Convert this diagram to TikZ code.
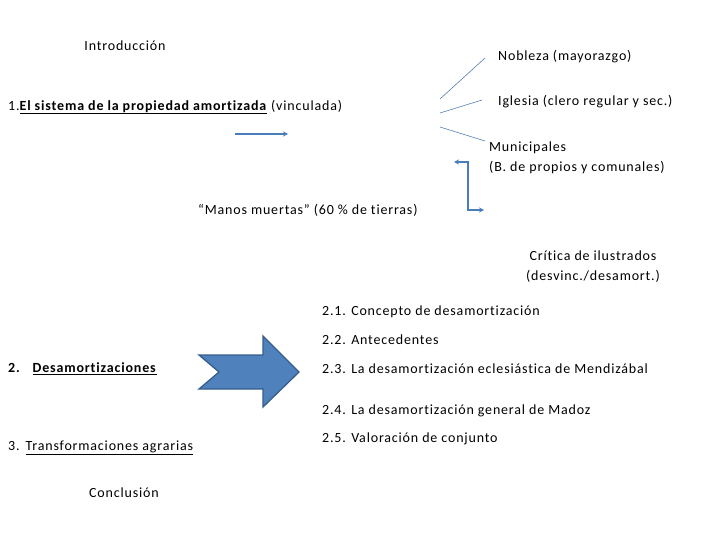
\documentclass[tikz,border=0pt]{standalone}
\usepackage{fontspec}
\setmainfont{Carlito}[LetterSpace=5.9,Ligatures={NoCommon}]
\usetikzlibrary{arrows.meta}
\definecolor{lineblue}{HTML}{4A7EBB}
\definecolor{fillblue}{HTML}{4F81BD}
\definecolor{edgeblue}{HTML}{385D8A}
\begin{document}
\begin{tikzpicture}[x=1pt,y=-1pt,
  txt/.style={anchor=west,inner sep=0pt,font=\fontsize{14}{20}\selectfont},
  ctxt/.style={inner sep=0pt,font=\fontsize{14}{20}\selectfont,align=center},
  fan/.style={draw=lineblue!80!gray,line width=0.6pt},
  conn/.style={draw=lineblue,line width=1.5pt,-{Stealth[length=5pt,width=5pt]}}]
\useasboundingbox (0,0) rectangle (720,540);
\node[ctxt] (intro) at (125,46) {Introducción};
\node[txt] (nob) at (498,57) {Nobleza (mayorazgo)};
\node[txt] (sist) at (8,107) {1.\underline{\textbf{El sistema de la propiedad amortizada}} (vinculada)};
\node[txt] (igl) at (498,102) {Iglesia (clero regular y sec.)};
\node[txt,align=left] (mun) at (489,157.5) {Municipales\\(B. de propios y comunales)};
\node[txt] (manos) at (198,210) {“Manos muertas” (60 \% de tierras)};
\node[ctxt] (crit) at (593,267) {Crítica de ilustrados\\(desvinc./desamort.)};
\node[txt] (s21) at (322,312) {2.1. Concepto de desamortización};
\node[txt] (s22) at (322,340) {2.2. Antecedentes};
\node[txt] (des) at (8,369) {\textbf{2.}\hspace{12pt}\underline{\textbf{Desamortizaciones}}};
\node[txt] (s23) at (322,369) {2.3. La desamortización eclesiástica de Mendizábal};
\node[txt] (s24) at (322,411) {2.4. La desamortización general de Madoz};
\node[txt] (trans) at (8,448) {3.\hspace{6pt}\underline{Transformaciones agrarias}};
\node[txt] (s25) at (322,439) {2.5. Valoración de conjunto};
\node[txt] (concl) at (89,493) {Conclusión};
% fan lines
\coordinate (f1a) at (440,99); \coordinate (f1b) at (485,58);
\coordinate (f2a) at (440,113); \coordinate (f2b) at (482,100);
\coordinate (f3a) at (440,127); \coordinate (f3b) at (485,141);
\draw[fan] (f1a) -- (f1b);
\draw[fan] (f2a) -- (f2b);
\draw[fan] (f3a) -- (f3b);
% small arrow
\coordinate (sa) at (235,134); \coordinate (sb) at (288,134);
\draw[conn] (sa) -- (sb);
% bracket arrow
\coordinate (ba) at (454,162); \coordinate (bb) at (484,210);
\draw[conn,{Stealth[length=5pt,width=5pt]}-{Stealth[length=5pt,width=5pt]}] (ba) -- (468,162) -- (468,210) -- (bb);
% big block arrow
\filldraw[fill=fillblue,draw=edgeblue,line width=1.3pt,line join=miter]
  (199,355) -- (263,355) -- (263,336) -- (299,372) -- (263,407) -- (263,389) -- (199,389) -- (219,372) -- cycle;
\end{tikzpicture}
\end{document}
